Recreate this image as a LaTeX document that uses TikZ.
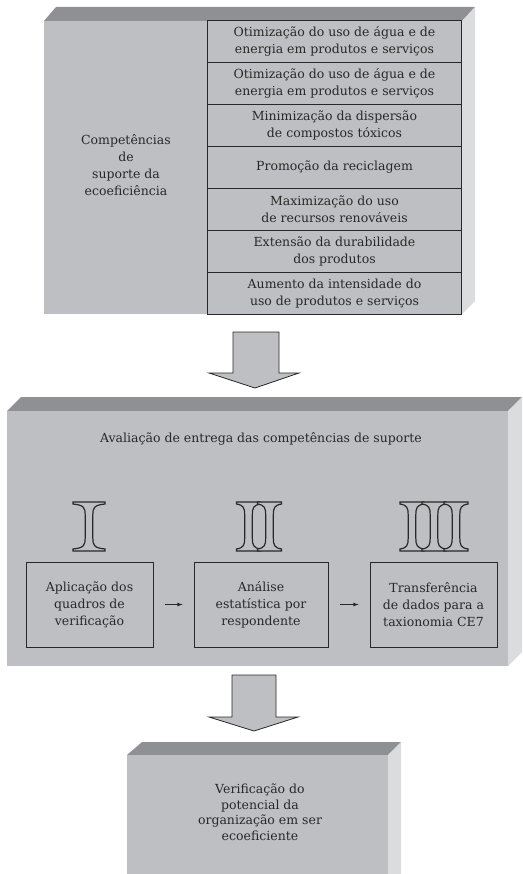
\documentclass[tikz,border=0pt]{standalone}
\usepackage{fontspec}
\setmainfont{DejaVu Serif}
\usetikzlibrary{arrows,positioning}

\definecolor{facegray}{RGB}{190,191,194}
\definecolor{topgray}{RGB}{143,144,147}
\definecolor{sidegray}{RGB}{219,220,222}
\definecolor{inkgray}{RGB}{40,40,40}

\newcommand{\numeral}[2]{%
  \draw [numeral,shift={(#1,502)}] (-#2,0) -- (#2,0) -- (#2,2)
    .. controls (5,3) and (3.8,6) .. (3.8,13) -- (3.8,36)
    .. controls (3.8,43) and (5,46) .. (#2,47) -- (#2,49) -- (-#2,49) -- (-#2,47)
    .. controls (-5,46) and (-3.8,43) .. (-3.8,36) -- (-3.8,13)
    .. controls (-3.8,6) and (-5,3) .. (-#2,2) -- cycle;}

\begin{document}
\begin{tikzpicture}[x=1pt,y=-1pt,
    txt/.style={align=center,text=inkgray,font=\fontsize{12.5}{17}\selectfont},
    row/.style={txt,draw=inkgray,thick,fill=facegray,minimum width=254pt,minimum height=42.2pt,inner sep=0pt},
    stepbox/.style={txt,draw=inkgray,thick,minimum height=85pt,inner sep=0pt},
    numeral/.style={draw=inkgray,line width=1.2pt,fill=facegray},
    bigarrow/.style={draw=inkgray,thick,fill=facegray},
    link/.style={-latex,inkgray,thick,shorten <=12pt,shorten >=11pt}]
  \useasboundingbox (0,0) rectangle (522,874);

  % suporte
  \fill [topgray] (44,21) -- (56,7) -- (475,7) -- (462,21) -- cycle;
  \fill [sidegray] (462,21) -- (475,7) -- (475,301) -- (462,314) -- cycle;
  \fill [facegray] (44,21) rectangle (462,314);
  \node [txt] (suporte) at (126,165) {Competências\\de\\suporte da\\ecoeficiência};

  \node [row] (r1) at (334.5,41.5) {Otimização do uso de água e de\\energia em produtos e serviços};
  \node [row] (r2) at (334.5,83.5) {Otimização do uso de água e de\\energia em produtos e serviços};
  \node [row] (r3) at (334.5,125.5) {Minimização da dispersão\\de compostos tóxicos};
  \node [row] (r4) at (334.5,167.5) {Promoção da reciclagem};
  \node [row] (r5) at (334.5,209.5) {Maximização do uso\\de recursos renováveis};
  \node [row] (r6) at (334.5,251.5) {Extensão da durabilidade\\dos produtos};
  \node [row] (r7) at (334.5,293.5) {Aumento da intensidade do\\uso de produtos e serviços};

  \draw [bigarrow] (233,332) -- (279,332) -- (279,373) -- (299,373) -- (255,388)
    -- (209,373) -- (233,373) -- cycle;

  % avaliacao
  \fill [topgray] (7,411) -- (21,397) -- (522,397) -- (508,411) -- cycle;
  \fill [sidegray] (508,411) -- (522,397) -- (522,652) -- (508,666) -- cycle;
  \fill [facegray] (7,411) rectangle (508,666);
  \node [txt] (avaliacao) at (261,439) {Avaliação de entrega das competências de suporte};

  \numeral{89}{16}
  \numeral{248.5}{12}
  \numeral{269.5}{12}
  \numeral{412}{12}
  \numeral{434}{12}
  \numeral{456}{12}

  \node [stepbox,minimum width=127pt] (aplicacao) at (89.5,604.5) {Aplicação dos\\quadros de\\verificação};
  \node [stepbox,minimum width=134pt] (analise) at (261,604.5) {Análise\\estatística por\\respondente};
  \node [stepbox,minimum width=127pt] (transf) at (433.5,604.5) {Transferência\\de dados para a\\taxionomia CE7};
  \draw [link] (aplicacao) -- (analise);
  \draw [link] (analise) -- (transf);

  \draw [bigarrow] (232,675) -- (276,675) -- (276,717) -- (298,717) -- (254,731)
    -- (209,717) -- (232,717) -- cycle;

  % verificacao
  \fill [topgray] (127,755) -- (142,742) -- (401,742) -- (388,755) -- cycle;
  \fill [sidegray] (388,755) -- (401,742) -- (401,874) -- (388,874) -- cycle;
  \fill [facegray] (127,755) rectangle (388,874);
  \node [txt,font=\fontsize{12.5}{15.5}\selectfont] (verificacao) at (260,812) {Verificação do\\potencial da\\organização em ser\\ecoeficiente};
\end{tikzpicture}
\end{document}
